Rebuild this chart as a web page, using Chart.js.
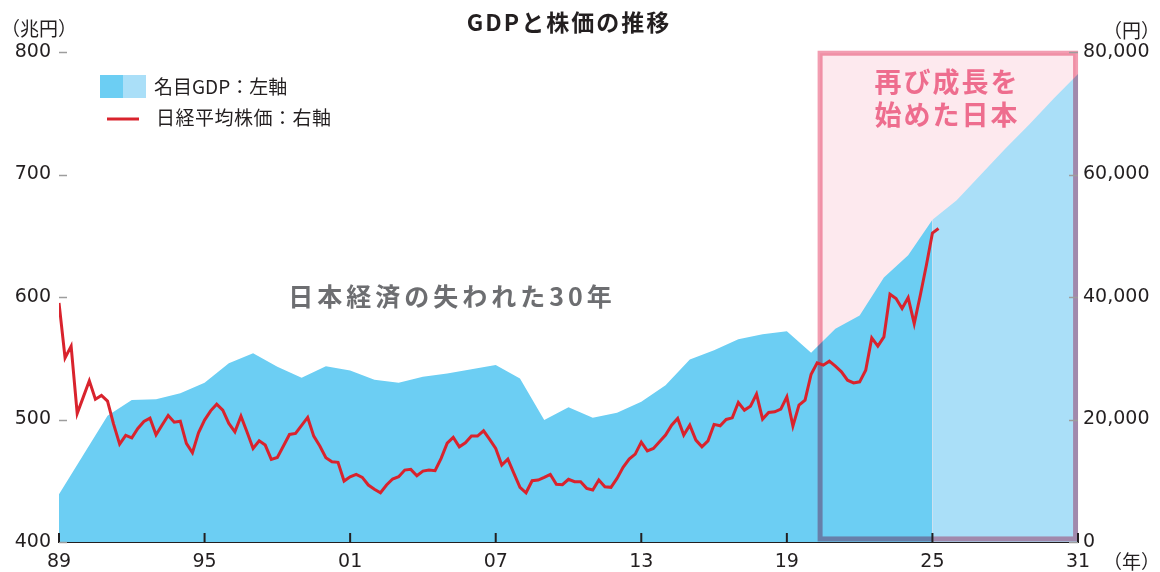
<!DOCTYPE html>
<html lang="ja">
<head>
<meta charset="utf-8">
<title>GDPと株価の推移</title>
<script src="https://cdn.jsdelivr.net/npm/chart.js@4.4.1/dist/chart.umd.min.js"></script>
<style>
    html, body { margin: 0; padding: 0; background: #fff; }
    #wrap { width: 1160px; height: 572px; }
</style>
</head>
<body>
<div id="wrap"><canvas id="gdpChart" width="1160" height="572"></canvas></div>
<script>
// 名目GDP（兆円）実績
const gdpYears = [1989, 1990, 1991, 1992, 1993, 1994, 1995, 1996, 1997, 1998, 1999, 2000,
    2001, 2002, 2003, 2004, 2005, 2006, 2007, 2008, 2009, 2010, 2011, 2012, 2013, 2014,
    2015, 2016, 2017, 2018, 2019, 2020, 2021, 2022, 2023, 2024, 2025];
const gdpValues = [439, 471, 503, 516, 516.5, 521.5, 530, 546, 554, 543, 534, 543.5,
    540, 532.5, 530, 535, 537.5, 541, 544.5, 533.5, 499.5, 510, 501.5, 505.5, 514.5, 528,
    549, 556.5, 565.5, 569.5, 572, 554.5, 574, 585, 616, 634, 663];

// 名目GDP 見通し
const outlookYears = [2025, 2026, 2027, 2028, 2029, 2030, 2031];
const outlookValues = [663, 679, 700, 721, 741, 762, 782];

// 日経平均株価（円）四半期末、1989年末から
const nikkeiStartYear = 1989;
const nikkeiValues = [
    39030, 30060, 31970, 20990, 23650, 26310, 23320, 23930, 23000, 19250,
    15980, 17400, 17010, 18540, 19690, 20220, 17500, 19100, 20660, 19570,
    19730, 16100, 14570, 17830, 19900, 21410, 22510, 21530, 19360, 17990,
    20550, 17950, 15280, 16520, 15820, 13490, 13810, 15660, 17560, 17730,
    19050, 20340, 17290, 15660, 13750, 13100, 13000, 9950, 10650, 11040,
    10550, 9300, 8600, 8040, 9300, 10280, 10650, 11740, 11860, 10810,
    11580, 11740, 11630, 13650, 16150, 17080, 15540, 16200, 17290, 17290,
    18150, 16750, 15280, 12560, 13540, 11200, 8920, 8040, 10000, 10110,
    10550, 11040, 9410, 9350, 10230, 9840, 9840, 8760, 8480, 10110,
    9020, 8920, 10390, 12180, 13540, 14350, 16300, 14890, 15280, 16360,
    17450, 19080, 20170, 17450, 19080, 16640, 15540, 16520, 19200, 18970,
    20010, 20270, 22780, 21530, 22180, 24140, 20060, 21150, 21250, 21690,
    23700, 18920, 22340, 23160, 27400, 29250, 28870, 29520, 28700, 27780,
    26420, 25980, 26150, 28050, 33320, 31970, 33490, 40450, 39750, 38120,
    39910, 35670, 40290, 45180, 50450, 51170
];

// 軸目盛
const xTickYears = [1989, 1995, 2001, 2007, 2013, 2019, 2025, 2031];
const xTickLabels = ['89', '95', '01', '07', '13', '19', '25', '31'];
const leftTicks = [400, 500, 600, 700, 800];
const rightTicks = [0, 20000, 40000, 60000, 80000];

const INK = '#231f20';
const JP = '"Noto Sans CJK JP", sans-serif';
const NUM = '"DejaVu Sans", sans-serif';

function drawText(ctx, s, x, y, font, color, align, spacing) {
    ctx.font = font;
    ctx.fillStyle = color;
    ctx.textAlign = align || 'left';
    ctx.textBaseline = 'middle';
    ctx.letterSpacing = (spacing || 0) + 'px';
    ctx.fillText(s, x, y);
    ctx.letterSpacing = '0px';
}

// 「再び成長を始めた日本」の枠
function boxRect(chart) {
    const x = chart.scales.x, y2 = chart.scales.y2;
    return {
        l: x.getPixelForValue(2020.37),
        r: x.getPixelForValue(2030.9),
        t: y2.getPixelForValue(79800),
        b: y2.getPixelForValue(500)
    };
}

const decorPlugin = {
    id: 'decor',
    beforeDatasetsDraw(chart) {
        const ctx = chart.ctx;
        const b = boxRect(chart);
        ctx.save();
        ctx.fillStyle = '#fde9ee';
        ctx.fillRect(b.l, b.t, b.r - b.l, b.b - b.t);
        ctx.restore();
    },
    beforeDatasetDraw(chart, args) {
        if (args.index !== 0) return;
        const ctx = chart.ctx;
        const b = boxRect(chart);
        ctx.save();
        ctx.globalCompositeOperation = 'multiply';
        ctx.strokeStyle = '#f29db1';
        ctx.lineWidth = 5;
        ctx.strokeRect(b.l, b.t, b.r - b.l, b.b - b.t);
        ctx.restore();
    },
    afterDraw(chart) {
        const ctx = chart.ctx;
        const area = chart.chartArea;
        const {x, y, y2} = chart.scales;
        ctx.save();

        // 目盛線
        ctx.strokeStyle = '#9d9d9d';
        ctx.lineWidth = 1.5;
        leftTicks.forEach(v => {
            const py = Math.round(y.getPixelForValue(v)) + 0.5;
            ctx.beginPath(); ctx.moveTo(area.left, py); ctx.lineTo(area.left + 8, py); ctx.stroke();
        });
        rightTicks.forEach(v => {
            const py = Math.round(y2.getPixelForValue(v)) + 0.5;
            ctx.beginPath(); ctx.moveTo(area.right - 9, py); ctx.lineTo(area.right, py); ctx.stroke();
        });
        ctx.strokeStyle = INK;
        ctx.lineWidth = 2;
        xTickYears.forEach(v => {
            const px = x.getPixelForValue(v);
            ctx.beginPath(); ctx.moveTo(px, area.bottom); ctx.lineTo(px, area.bottom - 9); ctx.stroke();
        });

        // タイトル・単位
        drawText(ctx, 'GDPと株価の推移', 569, 22, 'bold 23px ' + JP, INK, 'center', 2);
        drawText(ctx, '（兆円）', 1, 29, '19px ' + JP, INK, 'left');
        drawText(ctx, '（円）', 1160, 31, '19px ' + JP, INK, 'right');
        drawText(ctx, '（年）', 1160, 562, '19px ' + JP, INK, 'right');

        // 凡例
        ctx.fillStyle = '#6ccef3';
        ctx.fillRect(100, 75, 23, 23);
        ctx.fillStyle = '#aadff8';
        ctx.fillRect(123, 75, 23, 23);
        ctx.strokeStyle = '#d9232d';
        ctx.lineWidth = 3;
        ctx.beginPath(); ctx.moveTo(107, 119); ctx.lineTo(139, 119); ctx.stroke();
        drawText(ctx, '名目GDP：左軸', 154, 87, '19px ' + JP, INK, 'left');
        drawText(ctx, '日経平均株価：右軸', 156, 118, '19px ' + JP, INK, 'left', 0.5);

        // 注記
        drawText(ctx, '日本経済の失われた30年', 452, 296, 'bold 25px ' + JP, '#6d6e71', 'center', 4);
        drawText(ctx, '再び成長を', 947, 82, 'bold 27px ' + JP, '#ee6d8e', 'center', 2);
        drawText(ctx, '始めた日本', 947, 115, 'bold 27px ' + JP, '#ee6d8e', 'center', 2);

        ctx.restore();
    }
};

const ctx = document.getElementById('gdpChart').getContext('2d');
new Chart(ctx, {
    type: 'line',
    data: {
        datasets: [
            {
                label: '日経平均株価：右軸',
                data: nikkeiValues.map((v, i) => ({x: nikkeiStartYear + i / 4, y: v})),
                yAxisID: 'y2',
                borderColor: '#d9232d',
                borderWidth: 3,
                pointRadius: 0,
                tension: 0,
                fill: false
            },
            {
                label: '名目GDP：左軸',
                data: gdpYears.map((yr, i) => ({x: yr, y: gdpValues[i]})),
                yAxisID: 'y',
                backgroundColor: '#6ccef3',
                borderWidth: 0,
                pointRadius: 0,
                tension: 0,
                fill: 'start'
            },
            {
                label: '名目GDP見通し',
                data: outlookYears.map((yr, i) => ({x: yr, y: outlookValues[i]})),
                yAxisID: 'y',
                backgroundColor: '#aadff8',
                borderWidth: 0,
                pointRadius: 0,
                tension: 0,
                fill: 'start'
            }
        ]
    },
    options: {
        responsive: false,
        animation: false,
        layout: { padding: { top: 52, left: 0, right: 0, bottom: 0 } },
        plugins: {
            legend: { display: false },
            tooltip: { enabled: false }
        },
        scales: {
            x: {
                type: 'linear',
                min: 1989,
                max: 2031,
                grid: { display: false, drawTicks: false },
                border: { display: true, color: INK, width: 2 },
                ticks: {
                    stepSize: 6,
                    padding: 9,
                    color: INK,
                    font: { family: NUM, size: 19 },
                    maxRotation: 0,
                    callback: v => xTickLabels[xTickYears.indexOf(v)]
                },
                afterFit: s => { s.height = 30; }
            },
            y: {
                position: 'left',
                min: 400,
                max: 800,
                grid: { display: false, drawTicks: false },
                border: { display: false },
                ticks: {
                    stepSize: 100,
                    padding: 8,
                    color: INK,
                    font: { family: NUM, size: 19 }
                },
                afterFit: s => { s.width = 59; }
            },
            y2: {
                position: 'right',
                min: 0,
                max: 80000,
                grid: { display: false, drawTicks: false },
                border: { display: false },
                ticks: {
                    stepSize: 20000,
                    padding: 5,
                    color: INK,
                    font: { family: NUM, size: 19 },
                    callback: v => v.toLocaleString('en-US')
                },
                afterFit: s => { s.width = 82; }
            }
        }
    },
    plugins: [decorPlugin]
});
</script>
</body>
</html>
